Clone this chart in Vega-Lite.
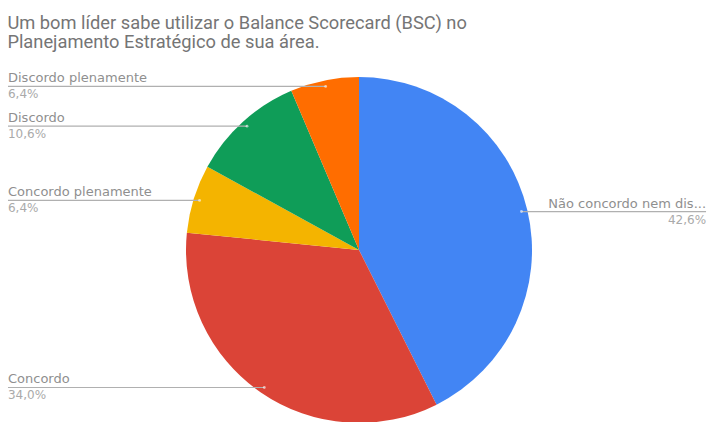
{
  "$schema": "https://vega.github.io/schema/vega-lite/v6.json",
  "width": 346,
  "height": 346,
  "autosize": {"type": "none"},
  "padding": {"left": 186, "top": 77, "right": 177, "bottom": 0},
  "background": "white",
  "title": {
    "text": ["Um bom líder sabe utilizar o Balance Scorecard (BSC) no", "Planejamento Estratégico de sua área."],
    "anchor": "start",
    "frame": "bounds",
    "font": "Roboto",
    "fontSize": 18.3,
    "fontWeight": "normal",
    "color": "#757575",
    "lineHeight": 19,
    "offset": 20
  },
  "config": {"view": {"stroke": null}},
  "data": {
    "values": [
      {"answer": "Não concordo nem discordo", "share": 42.6},
      {"answer": "Concordo", "share": 34.0},
      {"answer": "Concordo plenamente", "share": 6.4},
      {"answer": "Discordo", "share": 10.6},
      {"answer": "Discordo plenamente", "share": 6.4}
    ]
  },
  "transform": [
    {"window": [{"op": "sum", "field": "share", "as": "cumEnd"}], "frame": [null, 0]},
    {"calculate": "datum.cumEnd - datum.share", "as": "cumStart"},
    {"calculate": "(datum.cumStart + datum.cumEnd) / 200 * 2 * PI", "as": "mid"},
    {"calculate": "0.965 * sin(datum.mid)", "as": "px"},
    {"calculate": "0.965 * cos(datum.mid)", "as": "py"},
    {"calculate": "datum.px < 0 ? 'left' : 'right'", "as": "side"},
    {"calculate": "replace(format(datum.share, '.1f'), '.', ',') + '%'", "as": "pct"}
  ],
  "layer": [
    {
      "mark": {"type": "arc"},
      "encoding": {
        "theta": {"field": "cumStart", "type": "quantitative", "scale": {"domain": [0, 100]}},
        "theta2": {"field": "cumEnd"},
        "color": {
          "field": "answer",
          "type": "nominal",
          "scale": {
            "domain": ["Não concordo nem discordo", "Concordo", "Concordo plenamente", "Discordo", "Discordo plenamente"],
            "range": ["#4285F4", "#DB4437", "#F4B400", "#0F9D58", "#FF6D00"]
          },
          "legend": null
        }
      }
    },
    {
      "transform": [{"filter": "datum.side == 'left'"}],
      "mark": {"type": "rule", "color": "#b0b0b0", "strokeWidth": 1.2},
      "encoding": {
        "x": {"field": "px", "type": "quantitative", "scale": {"domain": [-1, 1]}, "axis": null},
        "x2": {"datum": -2.029},
        "y": {"field": "py", "type": "quantitative", "scale": {"domain": [-1, 1]}, "axis": null}
      }
    },
    {
      "transform": [{"filter": "datum.side == 'right'"}],
      "mark": {"type": "rule", "color": "#b0b0b0", "strokeWidth": 1.2},
      "encoding": {
        "x": {"field": "px", "type": "quantitative", "scale": {"domain": [-1, 1]}, "axis": null},
        "x2": {"datum": 2.006},
        "y": {"field": "py", "type": "quantitative", "scale": {"domain": [-1, 1]}, "axis": null}
      }
    },
    {
      "mark": {"type": "point", "filled": true, "color": "white", "size": 8, "opacity": 0.6},
      "encoding": {
        "x": {"field": "px", "type": "quantitative", "scale": {"domain": [-1, 1]}, "axis": null},
        "y": {"field": "py", "type": "quantitative", "scale": {"domain": [-1, 1]}, "axis": null}
      }
    },
    {
      "transform": [{"filter": "datum.side == 'left'"}],
      "mark": {"type": "text", "align": "left", "baseline": "alphabetic", "dy": -4, "font": "DejaVu Sans", "fontSize": 13, "color": "#8f8f8f"},
      "encoding": {
        "x": {"datum": -2.029, "type": "quantitative", "scale": {"domain": [-1, 1]}, "axis": null},
        "y": {"field": "py", "type": "quantitative", "scale": {"domain": [-1, 1]}, "axis": null},
        "text": {"field": "answer"}
      }
    },
    {
      "transform": [{"filter": "datum.side == 'left'"}],
      "mark": {"type": "text", "align": "left", "baseline": "top", "dy": 3, "font": "DejaVu Sans", "fontSize": 12, "color": "#aaaaaa"},
      "encoding": {
        "x": {"datum": -2.029, "type": "quantitative", "scale": {"domain": [-1, 1]}, "axis": null},
        "y": {"field": "py", "type": "quantitative", "scale": {"domain": [-1, 1]}, "axis": null},
        "text": {"field": "pct"}
      }
    },
    {
      "transform": [{"filter": "datum.side == 'right'"}],
      "mark": {"type": "text", "align": "right", "baseline": "alphabetic", "dy": -4, "font": "DejaVu Sans", "fontSize": 13, "color": "#8f8f8f", "limit": 163, "ellipsis": "..."},
      "encoding": {
        "x": {"datum": 2.006, "type": "quantitative", "scale": {"domain": [-1, 1]}, "axis": null},
        "y": {"field": "py", "type": "quantitative", "scale": {"domain": [-1, 1]}, "axis": null},
        "text": {"field": "answer"}
      }
    },
    {
      "transform": [{"filter": "datum.side == 'right'"}],
      "mark": {"type": "text", "align": "right", "baseline": "top", "dy": 3, "font": "DejaVu Sans", "fontSize": 12, "color": "#aaaaaa"},
      "encoding": {
        "x": {"datum": 2.006, "type": "quantitative", "scale": {"domain": [-1, 1]}, "axis": null},
        "y": {"field": "py", "type": "quantitative", "scale": {"domain": [-1, 1]}, "axis": null},
        "text": {"field": "pct"}
      }
    }
  ]
}
